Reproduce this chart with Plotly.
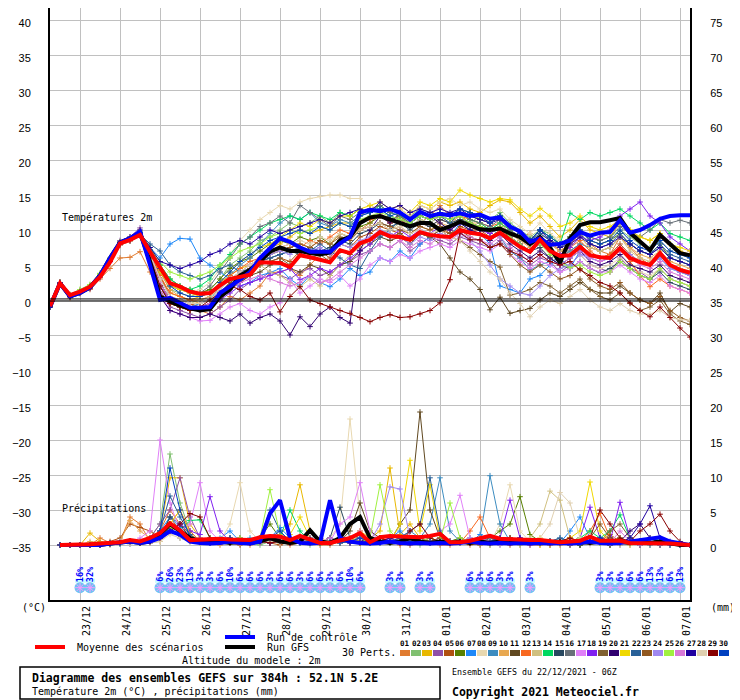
"""
GEFS ensemble meteogram (2m temperature + 6h precipitation), 52.1N 5.2E,
run of 22/12/2021 06Z, 384h.  Values read off the Meteociel chart.
"""

import plotly.graph_objects as go

MONO = "DejaVu Sans Mono"
SANS = "Liberation Sans"

# forecast steps, 6-hourly from 22/12 06Z
STEP_H = 6
N_STEPS = 65
HOURS = [STEP_H * i for i in range(N_STEPS)]

DATE_LABELS = ["23/12", "24/12", "25/12", "26/12", "27/12", "28/12", "29/12", "30/12",
               "31/12", "01/01", "02/01", "03/01", "04/01", "05/01", "06/01", "07/01"]
DATE_HOURS = [18 + 24 * k for k in range(len(DATE_LABELS))]

MEMBER_COLORS = [
    "#e07b30", "#80c070", "#e8b800", "#9050a8", "#b05010", "#588000", "#1e88f8", "#e8d8b0",
    "#3c8cc0", "#e8a850", "#604820", "#f86820", "#d0c080", "#00d860", "#284860", "#687078",
    "#e080f8", "#8020f0", "#806030", "#300070", "#f0d800", "#286098", "#905820", "#a088f0",
    "#a0f040", "#d878d8", "#2000a0", "#e0d0b0", "#880000", "#0040c0",
]

# ---------------------------------------------------------------------------
# 2m temperature (degC)
# ---------------------------------------------------------------------------

T_MEAN = [-0.9, 2.4, 0.7, 1.2, 1.9, 3.3, 5.4, 8.1, 8.6, 9.3,
          6.9, 4.7, 2.4, 1.9, 1.2, 0.9, 1.0, 2.1, 3.0, 3.3,
          3.6, 5.4, 5.4, 5.3, 4.7, 6.4, 6.1, 5.7, 5.4, 7.1,
          6.7, 8.1, 8.6, 9.7, 9.1, 9.0, 8.6, 9.7, 9.3, 9.1,
          9.0, 10.0, 9.6, 9.4, 8.8, 9.6, 8.6, 7.6, 6.9, 8.6,
          7.0, 6.3, 6.4, 7.6, 6.4, 6.1, 6.0, 7.4, 6.0, 5.4,
          5.0, 6.7, 5.0, 4.3, 3.9]

T_CTRL = [-1, 2.4, 0.5, 1.0, 1.8, 3.5, 6.0, 8.2, 8.8, 9.8,
          5.0, 0.0, 0.3, -0.4, -1.1, -1.1, -1.0, 1.0, 1.9, 2.9,
          4.0, 6.0, 7.4, 8.8, 8.3, 7.5, 6.9, 6.9, 6.9, 8.1,
          9.0, 12.5, 12.9, 12.7, 13.0, 12.5, 11.5, 12.6, 12.0, 12.3,
          12.1, 12.4, 12.0, 12.2, 11.6, 11.8, 10.5, 9.8, 8.3, 8.8,
          7.9, 8.0, 8.5, 9.7, 9.2, 9.6, 9.7, 11.4, 9.6, 10.0,
          10.7, 11.6, 12.0, 12.1, 12.1]

T_GFS = [-1, 2.4, 0.5, 1.0, 1.8, 3.5, 6.0, 8.2, 8.8, 9.6,
         5.5, 0.5, -0.2, -0.8, -1.2, -1.5, -1.3, 0.5, 1.5, 3.5,
         4.3, 5.5, 6.9, 7.5, 7.0, 7.0, 6.7, 6.5, 6.8, 8.5,
         9.0, 11.0, 11.8, 12.0, 11.5, 11.0, 10.5, 11.0, 11.0, 10.0,
         10.5, 11.2, 10.7, 10.1, 10.0, 10.2, 9.5, 9.0, 8.0, 9.0,
         7.5, 5.3, 8.8, 10.7, 11.1, 11.1, 11.4, 11.7, 9.6, 8.3,
         7.1, 9.3, 7.9, 6.7, 6.4]

T_MEMBERS = [
    # 01
    [-1, 2.5, 0.3, 1, 1.5, 3, 4.5, 6, 6.1, 6.9,
     4, 1, -0.5, -1, -0.5, -1.5, -2, -1, 0.5, 0,
     1, 2, 3.9, 4, 4.5, 3.5, 5, 6.5, 7, 8.5,
     9, 10, 11, 12.5, 11, 12, 10.5, 11, 12, 13.5,
     12, 11, 12.5, 11.5, 11, 12, 10, 9, 9.5, 8,
     8.5, 7, 8, 9.5, 8, 7, 6.5, 9, 7.5, 6,
     5, 6.5, 5, 4, 3.5],
    # 02
    [-1, 2.4, 0.8, 1.5, 2.2, 3.8, 6, 8.3, 8.8, 9.8,
     7, 4, 1.5, 1, 0.5, 1, 1.5, 3, 5, 6,
     7, 8.5, 9, 10, 11, 10.5, 11, 12, 11, 12.5,
     12, 13, 12.5, 13, 12, 11.5, 12, 13, 12.5, 12,
     11.5, 12, 11, 12, 11.5, 12.5, 11, 10, 9, 10,
     9.5, 8, 9, 10, 9, 8.5, 9, 10, 9, 8,
     7.5, 8.5, 7, 6.5, 6],
    # 03
    [-1, 2.3, 0.6, 1.2, 2, 3.5, 5.8, 8, 8.6, 9.4,
     6.5, 3, 1, 0.5, 0, 0.5, 1, 2.5, 3.5, 4.5,
     5, 6, 7.5, 8, 9, 10, 9.5, 10, 10.5, 11,
     11, 12, 13, 13.5, 12.5, 13, 12, 13.5, 13, 14,
     13.5, 14, 13, 12.5, 13.5, 14.3, 14, 12.5, 11, 12,
     10.5, 9, 10, 11.5, 10, 9.5, 9, 11, 10, 9,
     8.5, 9.5, 8, 7, 6.5],
    # 04
    [-1, 2.4, 0.4, 0.9, 1.6, 3.2, 5.5, 8.5, 9, 10.3,
     6, 1.5, -1, -1.5, -2, -2.5, -2, -1, 0, 1.5,
     2.5, 3, 4, 3.5, 3, 4, 4.5, 3.5, 4, 5,
     5.5, 6.5, 7, 8, 7.5, 8.5, 7, 8, 9, 8.5,
     8, 9, 8.5, 8, 7.5, 8.5, 7, 6, 5, 6,
     5.5, 4, 5, 6.5, 5, 4.5, 4, 6, 4.5, 4,
     3, 4.5, 3, 2.5, 2],
    # 05
    [-1, 2.5, 0.5, 1, 1.8, 3.4, 5.6, 7.8, 8.4, 9.2,
     6.8, 3.5, 0.5, 0, -0.5, -1, -0.5, 0.5, 1.5, 2.5,
     3.5, 5, 5.5, 6, 5.5, 7, 6.5, 7, 6, 8,
     7.5, 9, 9.5, 10.5, 10, 9.5, 8.5, 9.5, 9, 10,
     9.5, 10.5, 10, 10, 9, 10, 9, 8, 7, 8.5,
     7, 6, 7, 8, 6.5, 6, 6.5, 8, 6.5, 5.5,
     5, 6.5, 5, 4.5, 4],
    # 06
    [-1, 2.4, 0.6, 1.1, 1.9, 3.6, 5.8, 8.2, 8.7, 9.6,
     7.2, 5, 3, 2, 1.5, 1, 1.5, 3, 4.5, 5.5,
     6, 7, 8, 8.5, 8, 9, 8.5, 9, 8, 9.5,
     9, 10.5, 11, 12, 11.5, 12, 11, 12, 11.5, 12.5,
     12, 13, 12.5, 12, 11, 12, 10.5, 9.5, 8.5, 10,
     9, 8, 9, 10, 8.5, 8, 8.5, 9.5, 8, 7,
     6.5, 8, 6, 5.5, 5],
    # 07
    [-1, 2.5, 0.5, 1, 1.7, 3.3, 5.5, 8, 8.5, 9.5,
     7.5, 6, 8, 8.8, 8.7, 6, 5, 4, 3, 2,
     2.5, 3.5, 3.9, 4.5, 3, 2, 3.5, 2.5, 1.9, 3,
     4.5, 3.5, 4, 6, 5.5, 7, 6, 8, 9, 10,
     9, 11, 10, 9.5, 8, 2, 1.5, 1, 3, 3.5,
     5, 6, 4.5, 7, 6, 5.5, 6, 7.5, 6, 5.5,
     5, 6, 4.5, 4, 3.5],
    # 08
    [-1, 2.3, 0.7, 1.3, 2.1, 3.6, 5.7, 8.1, 8.5, 9.3,
     7, 4.5, 2, 1.5, 1, 1.5, 2.5, 4.5, 6.5, 8.5,
     10, 11.5, 12.5, 13.5, 13, 14, 14.5, 14.8, 15, 15,
     14.5, 14.5, 13.5, 13, 12.5, 13, 12, 13.5, 13, 14,
     14.5, 13.5, 14, 13, 12.5, 13, 11.5, 10.5, 9.5, 11,
     9.5, 8.5, 7, 6.5, 5, 4.5, 5, 6, 5, 4,
     3.5, 4.5, 3, 2.5, 2],
    # 09
    [-1, 2.4, 0.5, 1, 1.8, 3.4, 5.6, 8, 8.6, 9.5,
     6.5, 2.5, 0, -0.5, -1, -0.5, 0, 2, 3.5, 5,
     6, 8, 9.5, 11, 12, 11.5, 12.5, 11, 10.5, 11.5,
     11, 12, 12.5, 13, 12, 11.5, 10.5, 11.5, 11, 12,
     11.5, 12, 11, 10, 10.5, 9, 7, 6, 4.3, 5,
     5.5, 6, 7, 8, 7.5, 7, 7.5, 9, 8, 7,
     6.5, 7.5, 6, 5.5, 5],
    # 10
    [-1, 2.5, 0.6, 1.1, 1.9, 3.5, 5.7, 8.1, 8.7, 9.4,
     7, 4, 1.5, 0.5, 0, -0.5, 0, 1, 2.5, 4,
     5, 6, 6.5, 7, 7.5, 8, 7.5, 8.5, 8, 9.5,
     9, 10, 10.5, 11, 10, 10.5, 9.5, 10.5, 10, 11,
     10.5, 11.5, 11, 11, 10, 11, 9.5, 8.5, 7.5, 9,
     8, 7, 8, 9, 7.5, 7, 7.5, 9, 7.5, 6.5,
     6, 7, 5.5, 5, 4.5],
    # 11
    [-1, 2.4, 0.5, 1, 1.7, 3.3, 5.5, 7.9, 8.5, 9.4,
     6, 2, -0.5, -1, -1.5, -1, -1.5, 0, 1.5, 2.5,
     3.5, 4, 5, 5.5, 4.5, 4, 5, 4.5, 3.5, 5,
     5.5, 7, 8, 9, 8.5, 9, 8, 9.5, 9, 8,
     6, 4, 3, 1.5, -1.4, 0.4, -1.9, -1.5, -1.2, 0,
     1, 0.5, 1.5, 2.5, 1.5, 1, 1, 2, 1, 0,
     -0.5, 1, -1.7, -0.5, -1],
    # 12
    [-1, 2.4, 0.6, 1.2, 2, 3.5, 5.6, 8, 8.6, 9.5,
     7, 3.5, 1, 0.5, 0, 0, 0.5, 2, 3.5, 4.5,
     5.5, 6, 7, 7.5, 8, 7.5, 8.5, 8, 9, 10,
     9.5, 11, 11.5, 12, 11, 11.5, 10.5, 11, 10.5, 11.5,
     11, 12, 11.5, 11, 10.5, 11, 10, 9, 8, 9,
     8, 7, 7.5, 8.5, 7, 6, 6.5, 7.5, 5.5, 3.5,
     1.9, 3, 2, 1.5, 1],
    # 13
    [-1, 2.5, 0.5, 1.1, 1.8, 3.4, 5.6, 8, 8.6, 9.4,
     6.5, 3, 0.5, 0, -0.5, 0, 0.5, 1.5, 3, 4,
     4.5, 5, 4, 3.5, 2.5, 1.9, 3, 2, 3.5, 5,
     6.5, 7.5, 8.5, 9.5, 10, 11, 10.5, 11.5, 11, 12,
     11, 12, 11, 10.5, 10, 11, 9.5, 8.5, 8, 9,
     8, 7, 7.5, 9, 7.5, 7, 7.5, 9, 7, 6,
     5.5, 7, 5, 4.5, 4],
    # 14
    [-1, 2.4, 0.6, 1.2, 2, 3.6, 5.8, 8.2, 8.8, 9.6,
     7.5, 5, 3, 2, 1.5, 2, 3, 5, 6.5, 8,
     9, 10, 11, 11.5, 12, 11.5, 12.5, 12, 11.5, 12.5,
     12, 13, 12.5, 13.5, 12.5, 12, 11.5, 12, 11.5, 12.5,
     12, 12.5, 11.5, 11, 10, 11, 10, 9, 8.5, 10,
     9, 8, 12.4, 11.5, 12.5, 12, 12.5, 13, 12, 11,
     10, 11, 9.5, 9, 8.5],
    # 15
    [-1, 2.4, 0.5, 1, 1.7, 3.3, 5.5, 8, 8.5, 9.4,
     6.5, 2.5, 0, -0.5, -1, -1, -0.5, 1, 2.5, 3.5,
     4.5, 5.5, 6, 6.5, 7, 6.5, 7.5, 7, 7.5, 8.5,
     8, 9.5, 10, 11, 10.5, 11, 10, 11, 10.5, 11.5,
     11, 11.5, 11, 10.5, 9.5, 10.5, 9, 8, 7, 7.5,
     6, 5, 4.5, 5.5, 4.5, 3.9, 4.5, 5.5, 4.5, 3.5,
     3, 4, 2.5, 2, 1.5],
    # 16
    [-1, 2.5, 0.6, 1.1, 1.9, 3.5, 5.7, 8.1, 8.7, 9.5,
     7, 4, 2, 1.5, 1, 1, 2, 4, 6, 8,
     9, 10.5, 11, 12, 11, 13.5, 12.5, 11.5, 10.5, 12,
     11.5, 12.5, 13, 13.5, 12.5, 12, 11, 12, 11.5, 12.5,
     12, 12.5, 11.5, 11, 10.5, 11.5, 10, 9, 8, 9.5,
     8.5, 8, 9, 10, 9, 8.5, 9, 10.5, 9.5, 9,
     10, 11.5, 11, 11.4, 11],
    # 17
    [-1, 2.4, 0.5, 1, 1.7, 3.3, 5.4, 7.9, 8.5, 9.3,
     5.5, 1, -1.5, -2, -2.5, -3, -2.9, -2, -1, -0.5,
     -1.5, -2, -1, -0.4, 2.9, 1, 2, 3, 2.5, 3.5,
     2, 3, 5, 6, 5.5, 6.5, 6, 7, 7.5, 8,
     7.5, 8.5, 8, 7.5, 7, 8, 6.5, 5.5, 4.5, 5.5,
     5, 4, 4.5, 5.5, 4.5, 4, 4, 5, 4, 3,
     2.5, 3.5, 2, 1.5, 1],
    # 18
    [-1, 2.5, 0.5, 1, 1.8, 3.4, 5.6, 8.3, 8.8, 9.7,
     6.5, 2, 0, -0.5, -1, -1.5, -1, 0, 1, 2,
     2.5, 3, 3.5, 4, 4.5, 2.9, 3.5, 4.5, 4, 5,
     6, 7, 8, 9.5, 9, 10, 9, 10, 9.5, 10.5,
     10, 11, 10.5, 10, 9.5, 10.5, 9, 8, 7, 8,
     7, 6.5, 7.5, 9, 8.5, 9, 10, 12, 13, 14,
     12, 11, 9, 8, 7],
    # 19
    [-1, 2.4, 0.5, 1, 1.7, 3.3, 5.5, 7.9, 8.4, 9.2,
     6, 2, -0.5, -1, -1.5, -1.5, -1, 0.5, 2, 3,
     4, 5, 5.5, 6, 5, 6.5, 6, 6.5, 5.5, 7,
     6.5, 8, 8.5, 9.5, 9, 9.5, 8.5, 9.5, 9, 10,
     9, 8.5, 7.5, 6.5, 5.5, 4.7, 0.7, 1, 1.5, 2.5,
     2, 1, 2, 3, 1.5, 0.5, 0, 1, -0.5, -1.5,
     -1, 0, -2, -3, -3.5],
    # 20
    [-1, 2.4, 0.5, 1, 1.8, 3.4, 5.6, 8.3, 9, 10,
     5.5, 0.5, -1.5, -2, -2.5, -2.5, -2, -2.5, -3, -2,
     -3.3, -2.5, -2, -3, -5, -2.4, -3.8, -2, -1, -2.5,
     -3.3, 7.1, 10, 12, 11, 12.5, 11.5, 12.5, 12, 11,
     10, 11, 10, 9.5, 8.5, 9.5, 8, 7, 6, 7,
     6, 5, 6, 7, 5.5, 5, 5.5, 6.5, 5, 4.5,
     4, 5, 3.5, 3, 2.5],
    # 21
    [-1, 2.5, 0.6, 1.2, 2, 3.6, 5.8, 8.2, 8.8, 9.6,
     7, 4, 2, 1.5, 1, 0.5, 1, 2.5, 4, 5.5,
     6.5, 7.5, 8, 9, 10, 11, 10.5, 11.5, 11, 12,
     12, 13, 13.5, 14, 13, 13.5, 12.5, 14, 13.5, 14.5,
     14, 15.7, 15, 14.5, 14, 14.5, 14.3, 13, 12, 13.1,
     12, 10.5, 11, 12, 10.5, 10, 10.5, 11.5, 10, 9,
     8.5, 9.5, 8, 7.5, 7],
    # 22
    [-1, 2.4, 0.5, 1, 1.8, 3.4, 5.6, 8, 8.5, 9.4,
     8, 7, 5, 4, 3.5, 3, 3.5, 4.5, 5, 4,
     4.5, 5.5, 6, 6.5, 7, 7.5, 7, 8, 7, 6,
     5, 4.5, 7, 9, 10, 11.5, 11, 12, 11.5, 12,
     11, 12.5, 12, 11.5, 11, 12, 10.5, 9.5, 8.5, 9.5,
     8.5, 7.5, 8.5, 9.5, 8, 7.5, 8, 9.5, 8, 7,
     6.5, 8, 6.5, 6, 5.5],
    # 23
    [-1, 2.5, 0.5, 1, 1.7, 3.3, 5.5, 7.9, 8.5, 9.3,
     6.5, 2.5, 0, -0.5, -1, -1, -0.5, 1, 2.5, 3.5,
     4.5, 5.5, 6.5, 7, 7.5, 8, 7.5, 8.5, 8, 9,
     8.5, 10, 10.5, 11, 10.5, 10, 9.5, 10.5, 10, 10.5,
     9.5, 10, 9, 8.5, 7.5, 8, 6.5, 5, 4, 5,
     4, 3, 3.5, 4.5, 3, 2, 1.5, 2.5, 1, 0,
     -0.5, 0.5, -1.5, -2.5, -3],
    # 24
    [-1, 2.4, 0.5, 1, 1.8, 3.4, 5.6, 8, 8.6, 9.5,
     6.5, 3, 0.5, 0, -0.5, -0.5, 0, 1.5, 3, 4,
     5, 6, 6.5, 7, 6.5, 7.5, 7, 7.5, 6.5, 8,
     7.5, 8.5, 9, 10, 9.5, 9, 8, 9, 8.5, 9.5,
     9, 9.5, 8.5, 7, 5, 3, 2, 1, 0.7, 2,
     3.5, 4.5, 5, 6.5, 6, 5.5, 6, 7.5, 6.5, 5.5,
     5, 6, 4.5, 4, 3.5],
    # 25
    [-1, 2.5, 0.7, 1.5, 2.2, 3.8, 6, 8.3, 8.8, 9.7,
     7.5, 5.5, 4, 3.5, 3, 3.5, 4, 5, 6, 7,
     7.5, 8, 9, 9.5, 10, 9.5, 10, 10.5, 10, 11,
     10.5, 11.5, 12, 12.5, 12, 11.5, 11, 12, 11.5, 12,
     11.5, 12, 11, 10.5, 10, 10.5, 9, 8, 7, 8,
     6.5, 5.5, 4.6, 5, 4, 3.5, 4, 5.5, 4.5, 3.5,
     3, 4.5, 3, 2.5, 2],
    # 26
    [-1, 2.4, 0.5, 1, 1.7, 3.3, 5.5, 8, 8.5, 9.4,
     6, 2.5, 0, -0.5, -1, -1, -0.5, 0.5, 1.5, 2.5,
     3, 3.5, 3, 2.5, 2, 2.5, 3.5, 2.5, 2.9, 4,
     5, 6, 7, 8, 7.5, 8.5, 7.5, 8.5, 8, 9,
     8.5, 9.5, 9, 8.5, 8, 9, 7.5, 6.5, 5.5, 6.5,
     5.5, 5, 6, 7, 6, 5.5, 6, 7, 6, 5,
     4.5, 5.5, 4, 3.5, 3],
    # 27
    [-1, 2.5, 0.6, 1.2, 1.9, 3.5, 5.7, 8.2, 8.7, 9.6,
     7.5, 5.5, 5, 4.5, 5, 5.5, 6.5, 7, 8, 8.5,
     8, 9, 10, 9.5, 10, 10.5, 11, 11.5, 11, 12,
     12.5, 13, 12.5, 14, 13, 13.5, 12.5, 13, 12.5, 13,
     12.5, 13, 12, 11.5, 11, 11.5, 10.5, 9.5, 8.5, 10,
     8.5, 7.5, 8, 9, 8, 7.5, 8, 9, 8, 7,
     6.5, 7.5, 6, 5.5, 5],
    # 28
    [-1, 2.4, 0.5, 1, 1.7, 3.3, 5.5, 7.8, 8.4, 9.2,
     6.5, 3, 0.5, 0, -0.5, -0.5, 0, 1.5, 3, 4,
     5, 6, 7, 7.5, 8, 8.5, 8, 9, 8.5, 9.5,
     9, 10, 10.5, 11, 10, 10.5, 9.5, 10, 9.5, 10,
     9, 8.5, 7, 5.5, 4, 3, 1, -0.5, -2.4, -1,
     0, -0.5, 0.5, 1.5, 0, -1, -1.5, -0.5, -1.5, -2,
     -2, -1.5, -2.5, -2.8, -2.9],
    # 29
    [-1, 2.4, 0.5, 1, 1.7, 3.3, 5.5, 7.9, 8.5, 9.3,
     6, 2, -0.5, -1, -1.5, -1, 0, 1, 2, 1.5,
     0.5, 0, 1, -1.7, 0.5, 1.9, 0, -0.5, -1, -1.5,
     -1.9, -2.5, -3.1, -2.5, -2.1, -2.5, -2.4, -2, -1.5, -0.4,
     2.9, 9.6, 8.6, 8.6, 7.5, 8, 7, 6.4, 5.5, 6.5,
     5.5, 5, 5.5, 4.3, 3.5, 2.5, 2, 1, -0.4, -1.5,
     -2.4, -1, -2.5, -4, -5.3],
    # 30
    [-1, 2.4, 0.6, 1.1, 1.9, 3.5, 5.7, 8.1, 8.7, 9.6,
     7, 4.5, 2, 1, 0.5, 0.5, 1, 2.5, 4, 5.5,
     6.5, 7.5, 8.5, 9, 9.5, 10, 9.5, 10.5, 10, 11,
     10.5, 12, 12.5, 13, 12, 12.5, 11.5, 12.5, 12, 12.5,
     12, 13, 12.5, 12, 11, 12, 10.5, 9.5, 8.5, 10,
     9, 8, 8.5, 10, 8.5, 8, 8.5, 10, 8.5, 7.5,
     7, 8.5, 7, 6.5, 6],
]

# ---------------------------------------------------------------------------
# 6h precipitation (mm), from step 1 (22/12 12Z) onward
# ---------------------------------------------------------------------------

P_MEAN = [0, 0, 0, 0.1, 0.2, 0.3, 0.4, 0.7, 0.5,
          1.0, 1.7, 3.1, 2.1, 0.7, 0.8, 0.9, 0.9, 0.8, 0.8,
          0.7, 1.1, 1.3, 1.2, 0.7, 1.3, 0.8, 0.3, 0.3, 0.7,
          1.0, 1.7, 0.4, 1.1, 1.3, 1.2, 1.2, 1.1, 1.3, 1.6,
          0.4, 0.4, 0.6, 0.9, 1.3, 0.9, 0.8, 0.7, 0.7, 0.7,
          0.6, 0.4, 0.5, 0.6, 1.2, 0.6, 0.6, 0.6, 0.3, 0.3,
          0.3, 0.2, 0.2, 0.1, 0]

P_CTRL = [0, 0, 0, 0, 0, 0.2, 0.3, 0.5, 0.3,
          0.5, 1, 2, 1.5, 0.5, 0.3, 0.2, 0.3, 0.5, 0.3,
          0.2, 0.5, 4.5, 6.4, 1, 0.3, 0.2, 0.3, 6.4, 1,
          0.5, 0.3, 0.2, 0.3, 0.5, 0.3, 0.2, 0.3, 0.2, 0.3,
          0.2, 0.3, 0.5, 0.3, 0.2, 0.3, 0.2, 0.3, 0.2, 0.3,
          0.2, 0.3, 0.2, 0.3, 0.5, 0.3, 0.2, 0.3, 0.5, 0.8,
          1, 1.1, 0.5, 0.2, 0]

P_GFS = [0, 0, 0, 0, 0, 0.2, 0.3, 0.5, 0.3,
         0.5, 1.5, 3, 2, 1, 0.5, 0.3, 0.5, 0.3, 0.5,
         0.3, 0.5, 1, 0.5, 0.3, 0.5, 2.1, 0.5, 0.3, 1,
         3, 4, 1, 0.5, 0.3, 0.5, 1, 0.5, 0.3, 0.5,
         0.3, 0.5, 0.3, 0.5, 0.3, 0.5, 0.3, 0.5, 0.3, 0.5,
         0.3, 0.5, 0.3, 0.5, 0.3, 0.5, 0.3, 0.5, 0.3, 0.5,
         0.3, 0.5, 0.3, 0, 0]

P_MEMBERS = [
    # 01
    [0, 0, 0, 0, 1, 0.3, 0.5, 4, 3,
     0.5, 2, 5, 3, 1, 0.5, 0.3, 0, 0.5, 0.2,
     0, 0.5, 1, 0.5, 0, 0.3, 0.5, 0, 0, 0.5,
     1, 2, 0.5, 1, 0.5, 0, 0.3, 1, 0.5, 0,
     0, 0.5, 0, 0.3, 0, 0.5, 1, 0.3, 0, 0,
     0.5, 0, 0.3, 0.5, 1, 0.5, 0, 0.3, 0.5, 0,
     0.3, 0.5, 0.2, 0, 0],
    # 02
    [0, 0, 0, 0.3, 0.2, 0, 0.2, 0.5, 0.3,
     1, 3, 13, 6, 2, 0.5, 0.3, 0.5, 1, 0.5,
     0.3, 0, 0.5, 1, 0.5, 0.3, 0, 0.5, 1, 0.5,
     0.3, 1.5, 0.5, 0.3, 0.5, 1, 0.5, 0, 0.3, 0.5,
     0.5, 1, 0.5, 0.3, 0, 0.5, 0.3, 0, 0.5, 0.3,
     0, 0.3, 0.5, 0, 0.3, 0.5, 0, 0.3, 0, 0.2,
     0, 0.3, 0, 0, 0],
    # 03
    [0, 0, 0, 1.7, 0.5, 0.2, 0.3, 0.5, 0.3,
     0.5, 2, 9.6, 9.6, 3, 1, 0.5, 0.3, 0.5, 0.3,
     0.5, 1, 0.5, 1.5, 3, 8.6, 2, 0.5, 0.3, 0.5,
     1, 2, 1, 2, 11, 1.5, 3, 1, 0.5, 0.5,
     0.3, 0.5, 1, 0.5, 0.3, 0.5, 1, 0.5, 0.3, 0,
     0.5, 0.3, 0.5, 1, 0.5, 0.3, 0, 0.5, 0.3, 0,
     0.3, 0.5, 0.3, 0, 0],
    # 04
    [0, 0, 0, 0, 0, 0.3, 0.5, 0.3, 0.5,
     1, 3, 5, 9.6, 4, 1, 0.5, 0.3, 0.5, 1,
     0.5, 0.3, 0.5, 1, 0.5, 0.3, 0.5, 1, 0.5, 0.3,
     0.5, 1, 0.3, 0.5, 0.3, 0.5, 1, 0.5, 0.3, 0.5,
     0.3, 0.5, 1, 0.5, 0.3, 0, 0.5, 0.3, 0, 0.3,
     0.5, 0.3, 0, 0.5, 1, 0.5, 0.3, 0, 0.5, 0.3,
     0, 0.3, 0, 0, 0],
    # 05
    [0, 0, 0, 0, 0.3, 0.5, 1, 3, 2.5,
     2, 1, 4, 2, 1, 0.5, 0.3, 0.5, 0.3, 0,
     0.3, 0.5, 0.3, 0, 0.5, 1, 0.5, 0.3, 0.5, 0.3,
     0.5, 1, 0.5, 0.3, 0.5, 0.3, 0, 0.5, 1, 0.5,
     0.3, 0.5, 0.3, 0, 0.5, 0.3, 0, 0.3, 0.5, 0.3,
     0, 0.5, 0.3, 0, 0.3, 0.5, 1.5, 0.5, 0.3, 0,
     0.3, 0, 0.2, 0, 0],
    # 06
    [0, 0, 0, 0, 0, 0.2, 0.3, 0.5, 0.3,
     0.5, 1.5, 3, 2, 1, 0.5, 0.3, 0.5, 0.3, 0.5,
     0.3, 1, 3, 1, 0.5, 0.3, 0.5, 1, 0.5, 0.3,
     0.5, 0.3, 0.5, 1, 0.5, 0.3, 0.5, 0.3, 0.5, 0.3,
     0.5, 1, 0.5, 0.3, 1, 2, 3, 6.9, 1.5, 0.5,
     0.3, 0.5, 0.3, 0, 0.5, 0.3, 0.5, 1, 0.3, 0,
     0.3, 0.5, 0, 0, 0],
    # 07
    [0, 0, 0, 0, 0.2, 0.3, 0.2, 0.5, 0.3,
     0.5, 2, 4, 2.5, 1, 0.5, 0.3, 1, 2, 0.5,
     0.3, 0.5, 1, 2.5, 1, 0.5, 0.3, 0.5, 0.3, 1,
     0.5, 0.3, 0.5, 0.3, 1, 2, 0.5, 0.3, 0.5, 1,
     0.3, 0.5, 0.3, 1.5, 0.5, 0.3, 0.5, 1, 0.5, 0.3,
     0.5, 0.3, 2, 4, 1, 0.5, 0.3, 0.5, 0.3, 0,
     0.3, 0.5, 0.3, 0, 0],
    # 08
    [0, 0, 0, 0, 0, 0.2, 0.3, 0.5, 0.3,
     0.5, 1, 3, 2, 1, 0.5, 0.3, 0.5, 3, 8.9,
     2, 0.5, 0.3, 0.5, 1, 0.5, 0.3, 0.5, 1, 3,
     18, 4, 1, 0.5, 0.3, 0.5, 1, 0.5, 0.3, 0.5,
     0.3, 0.5, 1, 0.5, 0.3, 3, 8.6, 2, 0.5, 0.3,
     0.5, 0.3, 0.5, 0.3, 0, 0.3, 0.5, 0.3, 0, 0.3,
     0, 0.3, 0, 0, 0],
    # 09
    [0, 0, 0, 0, 0, 0.2, 0.3, 0.2, 0.5,
     0.3, 1, 2.5, 2, 1, 0.5, 0.3, 0.5, 0.3, 0.5,
     1, 0.5, 0.3, 0.5, 1, 0.5, 0.3, 0.5, 0.3, 1,
     0.5, 1, 0.5, 0.3, 0.5, 1, 2, 1, 3, 9.6,
     2, 0.5, 0.3, 1, 9.9, 3, 0.5, 0.3, 0.5, 0.3,
     0.5, 1, 0.5, 0.3, 0.5, 0.3, 0, 0.3, 0.5, 0.3,
     0, 0.3, 0, 0, 0],
    # 10
    [0, 0, 0, 0.5, 0.3, 0.2, 0.5, 3.5, 2,
     1, 0.5, 2, 1.5, 0.5, 0.3, 0.5, 0.3, 0.5, 1,
     0.5, 0.3, 0.5, 0.3, 1, 0.5, 0.3, 0.5, 0.3, 0.5,
     1, 0.5, 0.3, 0.5, 0.3, 1, 0.5, 0.3, 0.5, 0.3,
     0.5, 0.3, 1, 0.5, 0.3, 0.5, 0.3, 0, 0.5, 0.3,
     0, 0.3, 0.5, 0.3, 0.5, 1, 0.5, 0.3, 0, 0.3,
     0.5, 0.3, 0, 0, 0],
    # 11
    [0, 0, 0, 0, 0, 0.2, 0.3, 0.5, 0.3,
     0.5, 1, 2, 3, 1.5, 0.5, 0.3, 0.5, 0.3, 0.5,
     0.3, 0.5, 1, 0.5, 0.3, 0.5, 0.3, 0.5, 1, 0.5,
     2, 6, 2, 1, 0.5, 3, 5, 19, 5, 1,
     0.5, 0.3, 0.5, 0.3, 0.5, 1, 0.5, 0.3, 0.5, 0.3,
     0.5, 0.3, 0, 0.3, 0.5, 0.3, 0, 0.5, 0.3, 0,
     0.3, 0, 0.3, 0, 0],
    # 12
    [0, 0, 0, 0, 0.2, 0.3, 0.5, 0.3, 0.5,
     0.3, 1, 3, 5, 2, 0.5, 0.3, 0.5, 1, 0.5,
     0.3, 0.5, 0.3, 1, 0.5, 0.3, 0.5, 0.3, 0.5, 1,
     0.5, 0.3, 0.5, 1, 0.5, 0.3, 0.5, 1, 0.5, 0.3,
     0.5, 0.3, 2, 4, 1, 0.5, 0.3, 0.5, 0.3, 0.5,
     0.3, 0.5, 1, 0.5, 2, 4.5, 1, 0.5, 0.3, 0.5,
     0.3, 0, 0.3, 0, 0],
    # 13
    [0, 0, 0, 0, 0, 0.2, 0.3, 0.2, 0.5,
     0.3, 0.5, 2, 1.5, 1, 0.5, 0.3, 0.5, 0.3, 1,
     0.5, 0.3, 0.5, 0.3, 0.5, 1, 0.5, 0.3, 0.5, 0.3,
     0.5, 1, 0.5, 0.3, 0.5, 0.3, 0.5, 1, 0.5, 0.3,
     0.5, 0.3, 0.5, 1, 0.5, 0.3, 0.5, 0.3, 1, 3,
     7.7, 6.4, 1, 0.5, 0.3, 0.5, 0.3, 0, 0.3, 0.5,
     0.3, 0, 0.3, 0, 0],
    # 14
    [0, 0, 0, 0, 0, 0.3, 0.2, 0.5, 0.3,
     0.5, 1, 3, 2, 3.5, 3.6, 1, 0.5, 0.3, 0.5,
     0.3, 1, 0.5, 1, 5, 2, 0.5, 0.3, 0.5, 0.3,
     0.5, 0.3, 1, 0.5, 0.3, 0.5, 1, 0.5, 0.3, 0.5,
     0.3, 0.5, 0.3, 1, 0.5, 0.3, 0.5, 0.3, 0.5, 0.3,
     0.5, 0.3, 0.5, 1, 2, 1, 2, 4.3, 1, 0.5,
     0.3, 1, 0.3, 0, 0],
    # 15
    [0, 0, 0, 0, 0, 0.2, 0.5, 0.3, 0.5,
     0.3, 1, 4, 3, 1, 0.5, 0.3, 0.5, 0.3, 0.5,
     0.3, 0.5, 1, 0.5, 0.3, 0.5, 0.3, 0.5, 1, 5.4,
     1, 0.5, 0.3, 0.5, 1, 0.5, 0.3, 0.5, 1, 0.5,
     0.3, 0.5, 0.3, 0.5, 1, 0.5, 0.3, 0.5, 0.3, 0.5,
     0.3, 0.5, 0.3, 0, 0.5, 0.3, 1, 0.5, 0.3, 0.5,
     1, 0.3, 0, 0, 0],
    # 16
    [0, 0, 0, 0, 0, 0.2, 0.3, 0.5, 0.3,
     0.5, 1.5, 2.5, 1, 0.5, 0.3, 0.5, 0.3, 0.5, 1,
     0.5, 0.3, 0.5, 1, 0.5, 0.3, 0.5, 0.3, 0.5, 1,
     0.5, 1, 0.5, 0.3, 0.5, 0.3, 0.5, 1, 0.5, 0.3,
     0.5, 0.3, 0.5, 0.3, 1, 0.5, 0.3, 0.5, 0.3, 0.5,
     0.3, 0.5, 0.3, 0.5, 1, 0.5, 0.3, 0.5, 0.3, 0,
     0.3, 0.5, 0, 0, 0],
    # 17
    [0, 0, 0, 0, 0, 0.3, 0.5, 0.3, 1,
     2, 15, 6, 2, 3, 8.9, 2, 0.5, 0.3, 0.5,
     0.3, 0.5, 1, 0.5, 0.3, 0.5, 0.3, 1, 0.5, 3,
     4, 8.9, 2, 0.5, 1, 0.5, 0.3, 0.5, 1, 2,
     3, 7.1, 1, 0.5, 0.3, 0.5, 0.3, 0.5, 0.3, 0.5,
     0.3, 0.5, 0.3, 0.5, 1, 0.5, 0.3, 0.5, 0.3, 0,
     0.3, 0, 0.3, 0, 0],
    # 18
    [0, 0, 0, 0, 0, 0.2, 0.3, 0.5, 0.3,
     0.5, 1, 2, 3, 2, 1.5, 6.9, 2, 0.5, 0.3,
     0.5, 0.3, 0.5, 1, 0.5, 0.3, 0.5, 0.3, 0.5, 1,
     0.5, 0.3, 0.5, 1, 0.5, 0.3, 0.5, 0.3, 0.5, 1,
     0.5, 0.3, 0.5, 0.3, 0.5, 1, 6.4, 1, 0.5, 0.3,
     0.5, 0.3, 0.5, 1, 5.4, 1, 0.5, 6.1, 1, 0.5,
     0.3, 0.5, 0.3, 0, 0],
    # 19
    [0, 0, 0, 0, 0, 0.2, 0.3, 0.2, 0.5,
     0.3, 1, 2, 1.5, 1, 0.5, 0.3, 0.5, 0.3, 0.5,
     0.3, 0.5, 0.3, 1, 0.5, 0.3, 0.5, 0.3, 0.5, 0.3,
     0.5, 1, 0.5, 0.3, 0.5, 0.3, 0.5, 1, 0.5, 0.3,
     0.5, 0.3, 0.5, 0.3, 0.5, 1, 0.5, 0.3, 0.5, 0.3,
     0.5, 0.3, 0.5, 0.3, 1, 0.5, 2, 3, 1, 0.5,
     0.3, 0.5, 0.3, 0, 0],
    # 20
    [0, 0, 0, 0, 0, 0.2, 0.3, 0.5, 0.3,
     0.5, 1, 3, 2, 1, 0.5, 0.3, 0.5, 0.3, 0.5,
     0.3, 0.5, 0.3, 0.5, 1, 0.5, 0.3, 0.5, 0.3, 0.5,
     0.3, 0.5, 1, 0.5, 0.3, 0.5, 0.3, 0.5, 0.3, 0.5,
     0.3, 0.5, 0.3, 0.5, 0.3, 0.5, 1, 0.5, 0.3, 0.5,
     0.3, 0.5, 0.3, 0.5, 0.3, 0.5, 1, 0.5, 2, 3,
     1, 0.5, 0.3, 0, 0],
    # 21
    [0, 0, 0, 0, 0, 0.2, 0.3, 0.5, 0.3,
     0.5, 1, 3, 5, 1.5, 0.5, 0.3, 0.5, 0.3, 0.5,
     0.3, 0.5, 1, 0.5, 1.5, 4, 1, 0.5, 0.3, 0.5,
     1, 0.5, 0.3, 1, 0.5, 3, 12.1, 2, 8.6, 1,
     0.5, 0.3, 0.5, 1, 0.5, 0.3, 0.5, 0.3, 0.5, 1,
     0.5, 0.3, 1, 2, 9, 2, 0.5, 0.3, 0.5, 0.3,
     0.5, 0.3, 0, 0, 0],
    # 22
    [0, 0, 0, 0, 0, 0.3, 0.5, 0.3, 0.5,
     1, 2, 7, 4, 1.5, 0.5, 0.3, 0.5, 1, 0.5,
     0.3, 1, 5, 2, 0.5, 0.3, 0.5, 0.3, 0.5, 1,
     0.5, 0.3, 0.5, 0.3, 0.5, 1, 2, 3, 9.6, 2,
     0.5, 0.3, 0.5, 1, 0.5, 0.3, 0.5, 0.3, 0.5, 0.3,
     0.5, 1, 0.5, 0.3, 0.5, 0.3, 0.5, 0.3, 1, 0.5,
     0.3, 0, 0.3, 0, 0],
    # 23
    [0, 0, 0, 0, 0, 0.2, 0.3, 0.5, 0.3,
     0.5, 1, 2.5, 2, 1, 0.5, 0.3, 0.5, 0.3, 0.5,
     0.3, 0.5, 0.3, 0.5, 0.3, 1, 0.5, 0.3, 0.5, 0.3,
     0.5, 0.3, 0.5, 1, 0.5, 0.3, 0.5, 0.3, 0.5, 1,
     0.5, 0.3, 0.5, 0.3, 0.5, 0.3, 1, 0.5, 0.3, 0.5,
     0.3, 0.5, 0.3, 0.5, 1, 3, 1, 0.5, 0.3, 0.5,
     0.3, 0.5, 0.3, 0, 0],
    # 24
    [0, 0, 0, 0, 0, 0.2, 0.3, 0.2, 0.5,
     0.3, 1, 2, 1.5, 1, 0.5, 0.3, 0.5, 0.3, 0.5,
     0.3, 0.5, 0.3, 0.5, 1, 0.5, 0.3, 0.5, 0.3, 0.5,
     0.3, 1, 0.5, 3, 8.3, 8, 1, 0.5, 0.3, 0.5,
     0.3, 0.5, 1, 0.5, 0.3, 0.5, 0.3, 0.5, 0.3, 0.5,
     0.3, 0.5, 0.3, 0.5, 0.3, 1, 0.5, 0.3, 0.5, 0.3,
     0.5, 0.3, 0, 0, 0],
    # 25
    [0, 0, 0, 0, 0.2, 0.3, 0.5, 0.3, 0.5,
     0.3, 1, 2.5, 2, 1, 0.5, 0.3, 0.5, 0.3, 1,
     0.5, 1, 7.9, 1.5, 0.5, 0.3, 0.5, 0.3, 0.5, 1,
     0.5, 0.3, 1, 8.6, 2, 0.5, 0.3, 0.5, 1, 0.5,
     6, 1, 0.5, 0.3, 0.5, 0.3, 0.5, 0.3, 0.5, 0.3,
     0.5, 0.3, 0.5, 1, 0.5, 0.3, 0.5, 0.3, 0.5, 0.3,
     0.5, 0.3, 0, 0, 0],
    # 26
    [0, 0, 0, 0, 0, 0.2, 0.5, 0.3, 0.5,
     0.3, 1, 2, 1.5, 1, 0.5, 0.3, 0.5, 0.3, 0.5,
     0.3, 0.5, 1, 0.5, 0.3, 0.5, 0.3, 0.5, 1, 0.5,
     1, 2, 0.5, 0.3, 0.5, 0.3, 0.5, 0.3, 0.5, 0.3,
     0.5, 0.3, 0.5, 1, 0.5, 0.3, 0.5, 0.3, 0.5, 0.3,
     0.5, 0.3, 0.5, 0.3, 1, 0.5, 0.3, 2, 0.5, 0.3,
     0.5, 0.3, 0, 0, 0],
    # 27
    [0, 0, 0, 0, 0, 0.2, 0.3, 0.5, 0.3,
     0.5, 1, 2, 1.5, 1, 0.5, 0.3, 0.5, 0.3, 0.5,
     0.3, 0.5, 0.3, 0.5, 0.3, 0.5, 1, 0.5, 0.3, 0.5,
     0.3, 0.5, 0.3, 0.5, 1, 0.5, 0.3, 0.5, 0.3, 0.5,
     0.3, 0.5, 0.3, 0.5, 0.3, 0.5, 0.3, 1, 0.5, 0.3,
     0.5, 0.3, 0.5, 0.3, 0.5, 1, 0.5, 0.3, 1, 3,
     5.6, 1, 0.5, 0, 0],
    # 28
    [0, 0, 0, 0, 0, 0.2, 0.3, 0.2, 0.5,
     0.3, 0.5, 1.5, 1, 0.5, 0.3, 0.5, 0.3, 0.5, 0.3,
     0.5, 0.3, 0.5, 0.3, 0.5, 0.3, 0.5, 1, 0.5, 0.3,
     0.5, 0.3, 0.5, 0.3, 0.5, 1, 0.5, 0.3, 0.5, 0.3,
     0.5, 0.3, 0.5, 0.3, 0.5, 0.3, 0.5, 0.3, 0.5, 1,
     3, 7.5, 6, 1, 0.5, 0.3, 0.5, 0.3, 0.5, 0.3,
     0.5, 0.3, 0, 0, 0],
    # 29
    [0, 0, 0, 0, 0, 0.2, 0.3, 0.5, 0.3,
     0.5, 1, 2, 3, 4.5, 4, 1, 0.5, 0.3, 0.5,
     0.3, 0.5, 0.3, 0.5, 0.3, 0.5, 0.3, 0.5, 0.3, 1,
     0.5, 0.3, 0.5, 1, 0.5, 0.3, 2, 3, 1, 0.5,
     0.3, 0.5, 0.3, 0.5, 0.3, 0.5, 0.3, 0.5, 0.3, 0.5,
     0.3, 0.5, 1, 0.5, 1, 5, 3, 1, 0.5, 2,
     3, 4.4, 2, 0.5, 0],
    # 30
    [0, 0, 0, 0, 0, 0.3, 0.2, 0.5, 0.3,
     0.5, 2, 11, 5, 1, 0.5, 0.3, 0.5, 1, 0.5,
     0.3, 0.5, 1, 2, 0.5, 0.3, 0.5, 0.3, 0.5, 0.3,
     0.5, 1, 0.5, 0.3, 0.5, 1, 0.5, 0.3, 0.5, 0.3,
     0.5, 0.3, 0.5, 0.3, 0.5, 1, 0.5, 0.3, 0.5, 0.3,
     0.5, 0.3, 0.5, 0.3, 0.5, 1, 0.5, 0.3, 0.5, 0.3,
     0.5, 0.3, 0, 0, 0],
]

# snow probability (% of members) at given forecast steps
SNOW_STEPS = [3, 4,
              11, 12, 13, 14, 15, 16, 17, 18, 19, 20, 21, 22, 23, 24, 25, 26, 27, 28, 29, 30, 31,
              34, 35, 37, 38,
              42, 43, 44, 45, 46, 48,
              55, 56, 57, 58, 59, 60, 61, 62, 63]
SNOW_PCT = [16, 32,
            6, 26, 23, 13, 3, 3, 6, 10, 6, 6, 6, 3, 6, 6, 3, 6, 6, 3, 6, 10, 6,
            3, 3, 3, 3,
            6, 3, 6, 3, 3, 3,
            3, 3, 6, 6, 6, 13, 13, 6, 13]

T_TICKS = list(range(-35, 45, 5))
P_TICKS = list(range(0, 80, 5))

# ---------------------------------------------------------------------------
# page geometry.  Positions below are given in page pixels of the 740x700
# window; the browser puts the figure 8 px in from the top-left corner.
# Plot box on the page: x 50..690, y 8..600 (0 degC at y=300, 7 px per degC).
# ---------------------------------------------------------------------------
PAGE_W, PAGE_H, OFF = 740, 700, 8
W, H = PAGE_W - OFF, PAGE_H - OFF
L, R, T, B = 50 - OFF, W - (690 - OFF), 0, H - (600 - OFF)
T_RANGE = [(300 - 600) / 7, (300 - OFF) / 7]
P_RANGE = [T_RANGE[0] + 35, T_RANGE[1] + 35]   # 0 mm sits on -35 degC


def px(x):
    return (x - OFF - L) / (W - L - R)


def py(y):
    return (H - B - (y - OFF)) / (H - B - T)


def label(fig, x, y, text, size=10, bold=False, color="black", anchor="left"):
    fig.add_annotation(
        x=px(x), y=py(y), xref="paper", yref="paper",
        text=f"<b>{text}</b>" if bold else text,
        showarrow=False, xanchor=anchor, yanchor="middle",
        font=dict(family=MONO, size=size, color=color),
    )


fig = go.Figure()

# ensemble members: temperature then precipitation
for i, (temps, rain) in enumerate(zip(T_MEMBERS, P_MEMBERS)):
    col = MEMBER_COLORS[i]
    style = dict(
        mode="lines+markers",
        line=dict(color=col, width=1),
        marker=dict(symbol="cross-thin", size=4, line=dict(color=col, width=1)),
        hoverinfo="skip", showlegend=False,
    )
    fig.add_trace(go.Scatter(x=HOURS, y=temps, yaxis="y", **style))
    fig.add_trace(go.Scatter(x=HOURS[1:], y=rain, yaxis="y2", **style))

# GFS, control, mean
for temps, rain, col in [(T_GFS, P_GFS, "#000000"),
                         (T_CTRL, P_CTRL, "#0000ff"),
                         (T_MEAN, P_MEAN, "#ff0000")]:
    style = dict(mode="lines", line=dict(color=col, width=4),
                 hoverinfo="skip", showlegend=False)
    fig.add_trace(go.Scatter(x=HOURS, y=temps, yaxis="y", **style))
    fig.add_trace(go.Scatter(x=HOURS[1:], y=rain, yaxis="y2", **style))

# snow strip at the bottom of the plot
snow_hours = [HOURS[s] for s in SNOW_STEPS]
fig.add_trace(go.Bar(
    x=snow_hours, y=[0.6] * len(snow_hours), base=-40.4, width=STEP_H,
    marker=dict(color="#c8fcff", line_width=0), yaxis="y",
    hoverinfo="skip", showlegend=False,
))
fig.add_trace(go.Scatter(
    x=snow_hours, y=[-41.1] * len(snow_hours), mode="markers", yaxis="y",
    marker=dict(symbol="circle", size=11, color="#6cc4f2", line=dict(width=0)),
    hoverinfo="skip", showlegend=False,
))
fig.add_trace(go.Scatter(
    x=snow_hours, y=[-41.1] * len(snow_hours), mode="markers", yaxis="y",
    marker=dict(symbol="asterisk-open", size=8, line=dict(color="#d8f8ff", width=1)),
    hoverinfo="skip", showlegend=False,
))
for h, p in zip(snow_hours, SNOW_PCT):
    fig.add_annotation(
        x=h, y=-40.6, xref="x", yref="y", text=f"<b>{p}%</b>", textangle=-90,
        showarrow=False, xanchor="center", yanchor="bottom",
        font=dict(family=MONO, size=8.5, color="#0000ff"),
    )

# 0 degC double line
for dy in (-0.15, 0.15):
    fig.add_shape(type="line", xref="paper", yref="y", x0=0, x1=1, y0=dy, y1=dy,
                  line=dict(color="black", width=1))

# in-plot titles
label(fig, 60, 217, "Températures 2m")
label(fig, 60, 508, "Précipitations")

# units
label(fig, 20, 607, "(°C)")
label(fig, 709, 607, "(mm)")

# legend block
for x0, y0, col in [(35, 647, "#ff0000"), (225, 637, "#0000ff"), (225, 647, "#000000")]:
    fig.add_shape(type="line", xref="paper", yref="paper",
                  x0=px(x0), x1=px(x0 + 30), y0=py(y0), y1=py(y0),
                  line=dict(color=col, width=4))
label(fig, 75, 647, "Moyenne des scénarios")
label(fig, 265, 637, "Run de contrôle")
label(fig, 265, 647, "Run GFS")
label(fig, 180, 660, "Altitude du modele : 2m")
label(fig, 340, 652, "30 Perts.")

for k, col in enumerate(MEMBER_COLORS):
    x0 = 400 + 11 * k
    fig.add_shape(type="rect", xref="paper", yref="paper",
                  x0=px(x0), x1=px(x0 + 10), y0=py(656), y1=py(650),
                  fillcolor=col, line_width=0)
    label(fig, x0 + 5, 643, f"{k + 1:02d}", size=7.5, bold=True, anchor="center")

# title box
fig.add_shape(type="rect", xref="paper", yref="paper",
              x0=px(20), x1=px(440), y0=py(699), y1=py(667),
              line=dict(color="black", width=1.5), fillcolor="rgba(0,0,0,0)")
label(fig, 30, 678, "Diagramme des ensembles GEFS sur 384h : 52.1N 5.2E", size=11.5, bold=True)
label(fig, 30, 691, "Température 2m (°C) , précipitations (mm)")
label(fig, 450, 672, "Ensemble GEFS du 22/12/2021 - 06Z", size=8.3)
label(fig, 450, 692, "Copyright 2021 Meteociel.fr", size=11.5, bold=True)

fig.update_layout(
    width=W, height=H,
    margin=dict(l=L, r=R, t=T, b=B),
    paper_bgcolor="white", plot_bgcolor="white",
    showlegend=False, barmode="overlay",
    xaxis=dict(
        range=[0, HOURS[-1]], tickvals=DATE_HOURS, ticktext=DATE_LABELS,
        tickangle=-90, ticks="", ticklabelshift=7, ticklabelstandoff=0,
        tickfont=dict(family=MONO, size=10, color="black"),
        showgrid=True, gridcolor="#c0c0c0", gridwidth=1, zeroline=False,
        showline=True, linecolor="black", linewidth=2,
    ),
    yaxis=dict(
        range=T_RANGE, tickvals=T_TICKS, ticks="", ticklabelstandoff=15,
        ticklabelshift=3,
        tickfont=dict(family=SANS, size=11, color="black"),
        showgrid=True, gridcolor="#c0c0c0", gridwidth=1, zeroline=False,
        showline=True, linecolor="black", linewidth=2,
    ),
    yaxis2=dict(
        range=P_RANGE, tickvals=P_TICKS, ticks="", ticklabelstandoff=16,
        ticklabelshift=3,
        tickfont=dict(family=SANS, size=11, color="black"),
        overlaying="y", side="right", anchor="x",
        showgrid=False, zeroline=False,
        showline=True, linecolor="black", linewidth=2,
    ),
)

fig.write_html("out.html")
